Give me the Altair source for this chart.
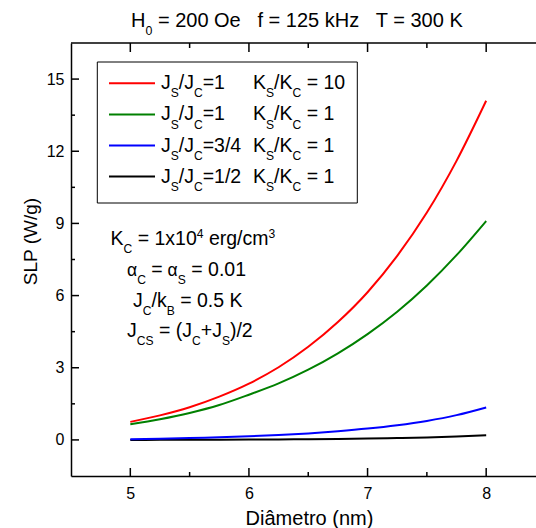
import altair as alt
import pandas as pd

# ---------------- data ----------------
diam = [5.0, 5.25, 5.5, 5.75, 6.0, 6.25, 6.5, 6.75, 7.0, 7.25, 7.5, 7.75, 8.0]
slp_js1_ks10 = [0.75, 1.02, 1.36, 1.80, 2.34, 3.02, 3.87, 4.90, 6.14, 7.65, 9.45, 11.6, 14.1]
slp_js1_ks1 = [0.65, 0.86, 1.12, 1.45, 1.88, 2.35, 2.92, 3.60, 4.40, 5.33, 6.42, 7.68, 9.1]
slp_js34_ks1 = [0.03, 0.05, 0.08, 0.11, 0.15, 0.20, 0.27, 0.36, 0.47, 0.61, 0.79, 1.03, 1.35]
slp_js12_ks1 = [0.0, 0.003, 0.006, 0.01, 0.015, 0.022, 0.03, 0.04, 0.055, 0.075, 0.10, 0.14, 0.19]

series_names = ["Js/Jc=1/2 Ks/Kc=1", "Js/Jc=3/4 Ks/Kc=1", "Js/Jc=1 Ks/Kc=1", "Js/Jc=1 Ks/Kc=10"]
series_values = [slp_js12_ks1, slp_js34_ks1, slp_js1_ks1, slp_js1_ks10]
series_colors = ["#000000", "#0000ff", "#008000", "#ff0000"]

x_major = [5, 6, 7, 8]
x_minor = [5.5, 6.5, 7.5]
y_major = [0, 3, 6, 9, 12, 15]
y_minor = [1.5, 4.5, 7.5, 10.5, 13.5]
x_domain = [4.5, 8.42]
y_domain = [-1.5, 16.5]

# ---------------- layout ----------------
PL, PT, W, H = 71, 43, 465, 433
PB = 528 - PT - H
FONT = "Liberation Sans"


def dx(px):
    return x_domain[0] + (px - PL) / W * (x_domain[1] - x_domain[0])


def dy(py):
    return y_domain[1] - (py - PT) / H * (y_domain[1] - y_domain[0])


rows = []
for name, vals in zip(series_names, series_values):
    for d, v in zip(diam, vals):
        rows.append({"d": d, "v": v, "s": name})
df = pd.DataFrame(rows)

xs = alt.Scale(domain=x_domain, nice=False, zero=False)
ys = alt.Scale(domain=y_domain, nice=False, zero=False)
cs = alt.Scale(domain=series_names, range=series_colors)

x_axis = alt.Axis(
    values=x_major, format="d", ticks=False, grid=False, domain=True,
    domainColor="black", domainWidth=1.5, labelFont=FONT, labelFontSize=16,
    labelColor="black", labelPadding=9, title="Diâmetro (nm)", titleFont=FONT,
    titleFontSize=20, titleFontWeight="normal", titleColor="black",
    titleX=309 - PL, titleY=524 - (PT + H), titleBaseline="alphabetic",
    titleAlign="center")
y_axis = alt.Axis(
    values=y_major, format="d", ticks=False, grid=False, domain=True,
    domainColor="black", domainWidth=1.5, labelFont=FONT, labelFontSize=16,
    labelColor="black", labelPadding=7, title="SLP (W/g)", titleFont=FONT,
    titleFontSize=19, titleFontWeight="normal", titleColor="black",
    titleX=30 - PL, titleY=241 - PT, titleBaseline="middle",
    titleAlign="center", titleAngle=270)

lines = alt.Chart(df).mark_line(strokeWidth=2, interpolate="monotone").encode(
    x=alt.X("d:Q", scale=xs, axis=x_axis),
    y=alt.Y("v:Q", scale=ys, axis=y_axis),
    color=alt.Color("s:N", scale=cs, legend=None),
)


def ticks_y(vals, length):
    return alt.Chart(pd.DataFrame({"v": vals})).mark_rule(
        color="black", strokeWidth=1.5, x2Offset=length).encode(
        x=alt.XDatum(x_domain[0], scale=xs, axis=x_axis), x2=alt.X2Datum(x_domain[0]),
        y=alt.Y("v:Q", scale=ys, axis=y_axis))


def ticks_x(vals, ypos, offset):
    return alt.Chart(pd.DataFrame({"d": vals})).mark_rule(
        color="black", strokeWidth=1.5, y2Offset=offset).encode(
        x=alt.X("d:Q", scale=xs, axis=x_axis),
        y=alt.YDatum(ypos, scale=ys, axis=y_axis), y2=alt.Y2Datum(ypos))


top_line = alt.Chart(pd.DataFrame({"a": [0]})).mark_rule(color="black", strokeWidth=1.5).encode(
    x=alt.XDatum(x_domain[0], scale=xs, axis=x_axis), x2=alt.X2Datum(x_domain[1]),
    y=alt.YDatum(y_domain[1], scale=ys, axis=y_axis))

# ---------------- text with sub/superscripts ----------------
AW = {" ": 278, "(": 333, ")": 333, "+": 584, ".": 278, "/": 278, "=": 584,
      "B": 667, "C": 722, "H": 722, "J": 500, "K": 667, "O": 778, "S": 667, "T": 611,
      "e": 556, "f": 278, "g": 556, "k": 500, "m": 833, "r": 333, "x": 500, "z": 500,
      "c": 500, "α": 579}


def tw(s, size):
    return sum(AW.get(ch, 556) for ch in s) * size / 1000.0


text_rows = []
SUBR = 0.62


def add_line(parts, x0, base, F):
    x = x0
    for txt, kind in parts:
        if kind == "n":
            fs, y = F, base
        elif kind == "sub":
            fs, y = F * SUBR, base + 0.42 * F
        elif kind == "greek":
            fs, y = F * 0.9, base
        else:
            fs, y = F * SUBR, base - 0.36 * F
        lead = len(txt) - len(txt.lstrip(" "))
        x += tw(" " * lead, fs)
        core = txt.strip(" ")
        if core:
            text_rows.append({"t": core, "d": dx(x), "v": dy(y), "fs": fs})
        x += tw(txt[lead:], fs)


# title
TF = 20
add_line([("H", "n"), ("0", "sub"), (" = 200 Oe", "n"), ("   f = 125 kHz", "n"),
          ("   T = 300 K", "n")], 131, 27, TF)

# legend labels
LF = 19.5
leg_base = [89.3, 120.4, 151.5, 182.6]
js_txt = ["=1", "=1", "=3/4", "=1/2"]
ks_txt = [" = 10", " = 1", " = 1", " = 1"]
leg_series = ["Js/Jc=1 Ks/Kc=10", "Js/Jc=1 Ks/Kc=1", "Js/Jc=3/4 Ks/Kc=1", "Js/Jc=1/2 Ks/Kc=1"]
for b, j, k in zip(leg_base, js_txt, ks_txt):
    add_line([("J", "n"), ("S", "sub"), ("/J", "n"), ("C", "sub"), (j, "n")], 161, b, LF)
    add_line([("K", "n"), ("S", "sub"), ("/K", "n"), ("C", "sub"), (k, "n")], 253, b, LF)

# parameter notes
NF = 19.5
add_line([("K", "n"), ("C", "sub"), (" = 1x10", "n"), ("4", "sup"), (" erg/cm", "n"), ("3", "sup")], 110.5, 245, NF)
add_line([("α", "greek"), ("C", "sub"), (" =", "n"), (" α", "greek"), ("S", "sub"), (" = 0.01", "n")], 127, 276, NF)
add_line([("J", "n"), ("C", "sub"), ("/k", "n"), ("B", "sub"), (" = 0.5 K", "n")], 133, 306.7, NF)
add_line([("J", "n"), ("CS", "sub"), (" = (J", "n"), ("C", "sub"), ("+J", "n"), ("S", "sub"), (")/2", "n")], 127, 336.7, NF)

tdf = pd.DataFrame(text_rows)
texts = alt.Chart(tdf).mark_text(align="left", baseline="alphabetic", font=FONT, color="black").encode(
    x=alt.X("d:Q", scale=xs, axis=x_axis),
    y=alt.Y("v:Q", scale=ys, axis=y_axis),
    size=alt.Size("fs:Q", scale=None, legend=None),
    text="t:N",
)

# legend box and samples
box = alt.Chart(pd.DataFrame({"d": [dx(97.3)], "d2": [dx(357.3)], "v": [dy(62)], "v2": [dy(203)]})).mark_rect(
    fill="white", stroke="black", strokeWidth=1).encode(
    x=alt.X("d:Q", scale=xs, axis=x_axis), x2="d2:Q",
    y=alt.Y("v:Q", scale=ys, axis=y_axis), y2="v2:Q")

samp = pd.DataFrame({"d": [dx(109)] * 4, "d2": [dx(155)] * 4,
                     "v": [dy(b - 6) for b in leg_base], "s": leg_series})
samples = alt.Chart(samp).mark_rule(strokeWidth=2).encode(
    x=alt.X("d:Q", scale=xs, axis=x_axis), x2="d2:Q",
    y=alt.Y("v:Q", scale=ys, axis=y_axis),
    color=alt.Color("s:N", scale=cs, legend=None))

chart = alt.layer(
    lines,
    ticks_y(y_major, 8), ticks_y(y_minor, 4),
    ticks_x(x_major, y_domain[0], -8), ticks_x(x_minor, y_domain[0], -4),
    ticks_x(x_major, y_domain[1], 9), ticks_x(x_minor, y_domain[1], 5),
    top_line, box, samples, texts,
).properties(
    width=W, height=H,
    autosize=alt.AutoSizeParams(type="none"),
    padding={"left": PL, "top": PT, "right": 0, "bottom": PB},
).configure_view(stroke=None)

chart.save("out.html", embed_options={"renderer": "svg", "actions": False})
